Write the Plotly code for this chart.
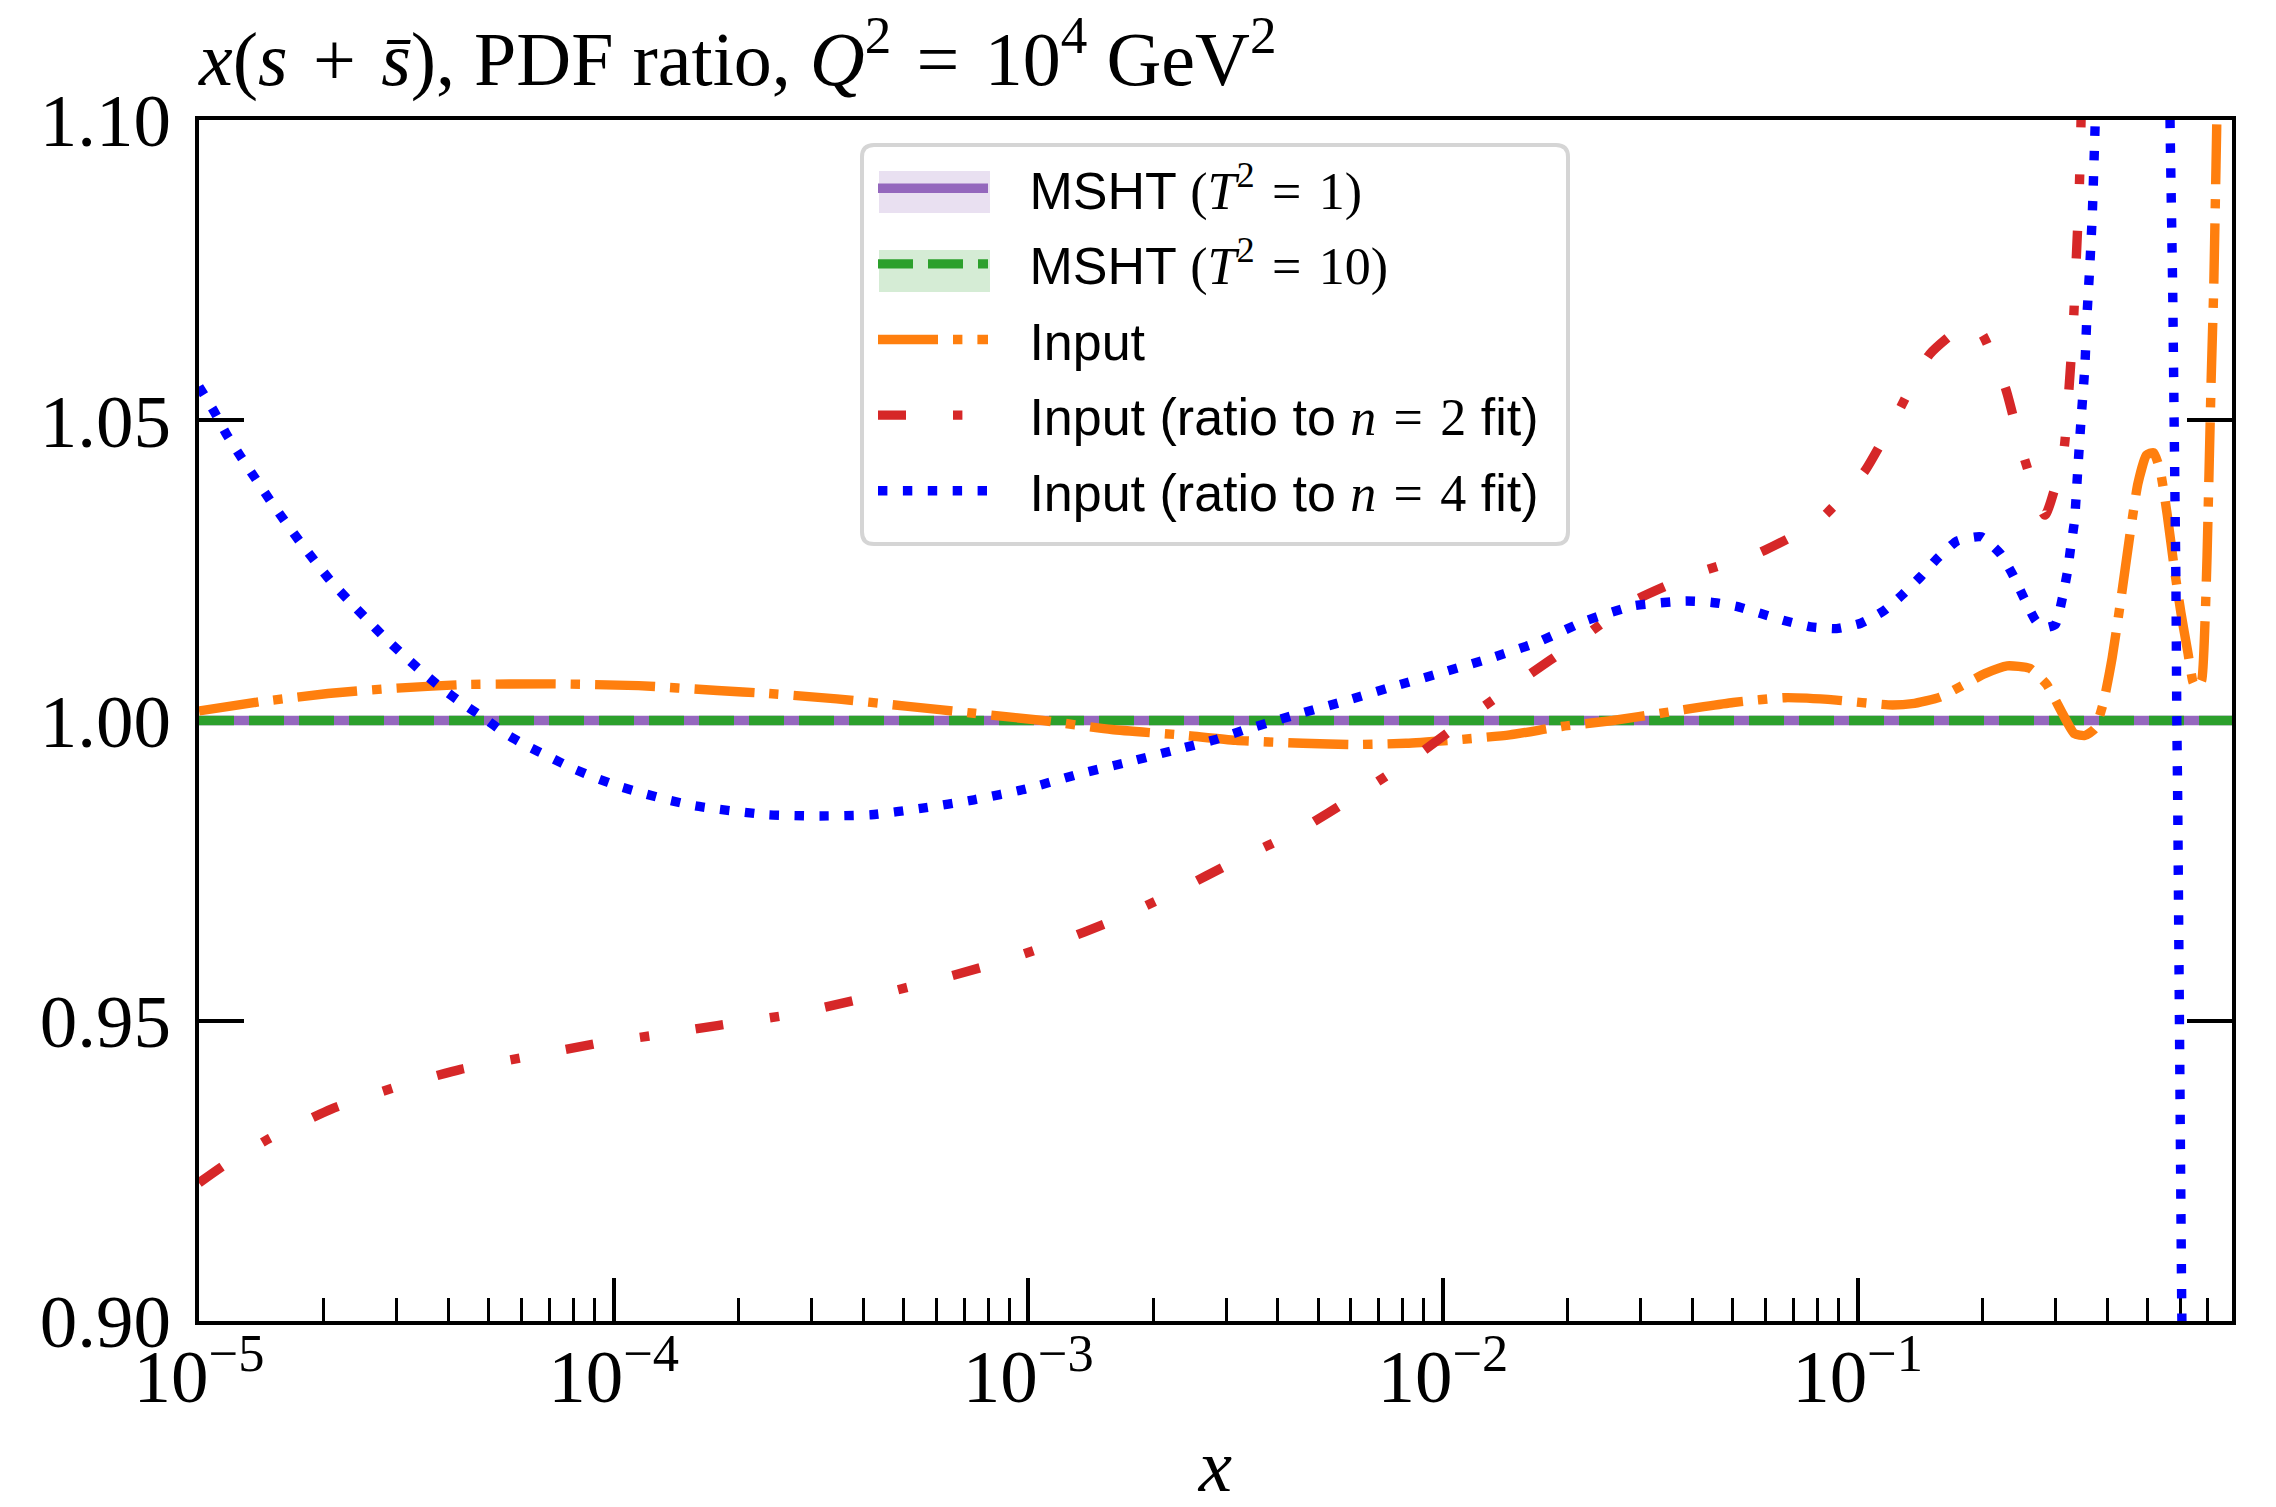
import numpy as np
import plotly.graph_objects as go

# ---------------- data (x given as log10 x) ----------------
msht_log10x = [-5.0, -0.0969]
msht_t1_ratio = [1.0, 1.0]
msht_t10_ratio = [1.0, 1.0]

input_log10x = [-5.0, -4.855, -4.689, -4.522, -4.356, -4.148, -3.94, -3.75, -3.627, -3.462,
                -3.296, -3.131, -2.965, -2.799, -2.634, -2.50, -2.338, -2.214, -2.089, -1.964,
                -1.839, -1.714, -1.59, -1.465, -1.371, -1.30, -1.175, -1.051, -0.926, -0.868,
                -0.801, -0.693, -0.639, -0.585, -0.544, -0.506, -0.477, -0.452, -0.428, -0.407,
                -0.386, -0.365, -0.344, -0.324, -0.303, -0.286, -0.270, -0.253, -0.236, -0.220,
                -0.203, -0.191, -0.182, -0.170, -0.162, -0.157, -0.152, -0.147, -0.141, -0.137,
                -0.134, -0.130, -0.125]
input_ratio = [1.0016, 1.0031, 1.0045, 1.0054, 1.0060, 1.0061, 1.0058, 1.0050, 1.0045, 1.0036,
               1.0024, 1.0012, 1.0000, 0.9985, 0.9976, 0.9967, 0.9962, 0.9960, 0.9962, 0.9968,
               0.9976, 0.9990, 1.0000, 1.0013, 1.0023, 1.0030, 1.0038, 1.0034, 1.0026, 1.0028,
               1.0039, 1.0078, 1.0091, 1.0087, 1.0060, 1.0012, 0.9978, 0.9975, 0.9986, 1.0030,
               1.0104, 1.0201, 1.0305, 1.0394, 1.0442, 1.0446, 1.0416, 1.0342, 1.0253, 1.0179,
               1.0112, 1.0064, 1.0054, 1.0067, 1.0164, 1.0275, 1.0423, 1.0572, 1.0720, 1.0868,
               1.0980, 1.1200, 1.1500]

n2_log10x = [-5.0, -4.938, -4.830, -4.681, -4.527, -4.369, -4.210, -4.048, -3.890, -3.75,
             -3.569, -3.412, -3.255, -3.097, -2.940, -2.791, -2.642, -2.501, -2.347, -2.205,
             -2.072, -1.939, -1.810, -1.673, -1.540, -1.390, -1.238, -1.096, -0.984, -0.905,
             -0.826, -0.727, -0.698, -0.643, -0.602, -0.548, -0.504, -0.490, -0.479, -0.472,
             -0.465, -0.461, -0.455, -0.430]
n2_ratio = [0.9230, 0.9260, 0.9304, 0.9353, 0.9389, 0.9419, 0.9440, 0.9461, 0.9477, 0.9492,
            0.9511, 0.9535, 0.9562, 0.9592, 0.9628, 0.9668, 0.9716, 0.9766, 0.9817, 0.9877,
            0.9937, 1.0005, 1.0068, 1.0133, 1.0199, 1.0245, 1.0279, 1.0331, 1.0414, 1.0510,
            1.0610, 1.0664, 1.0642, 1.0553, 1.0446, 1.0342, 1.0442, 1.0553, 1.0668, 1.0777,
            1.0890, 1.0998, 1.1200, 1.1700]

n4_log10x = [-5.0, -4.963, -4.934, -4.898, -4.864, -4.829, -4.793, -4.757, -4.720, -4.681,
             -4.639, -4.596, -4.552, -4.507, -4.462, -4.413, -4.364, -4.314, -4.263, -4.210,
             -4.154, -4.098, -4.042, -3.985, -3.925, -3.865, -3.805, -3.745, -3.627, -3.503,
             -3.379, -3.255, -3.131, -3.006, -2.882, -2.758, -2.634, -2.55, -2.480, -2.363,
             -2.243, -2.122, -2.006, -1.889, -1.773, -1.656, -1.540, -1.415, -1.354, -1.292,
             -1.233, -1.175, -1.113, -1.051, -0.992, -0.938, -0.891, -0.847, -0.806, -0.760,
             -0.702, -0.656, -0.625, -0.598, -0.569, -0.545, -0.523, -0.506, -0.494, -0.486,
             -0.477, -0.469, -0.461, -0.452, -0.447, -0.440, -0.434, -0.428, -0.420, -0.400,
             -0.330, -0.270, -0.250, -0.246, -0.240, -0.236, -0.232, -0.230, -0.228, -0.218,
             -0.214]
n4_ratio = [1.0556, 1.0514, 1.0477, 1.0438, 1.0403, 1.0367, 1.0332, 1.0298, 1.0265, 1.0231,
            1.0200, 1.0169, 1.0138, 1.0109, 1.0081, 1.0053, 1.0028, 1.0005, 0.9979, 0.9958,
            0.9939, 0.9920, 0.9904, 0.9890, 0.9878, 0.9867, 0.9858, 0.9852, 0.9843, 0.9841,
            0.9843, 0.9854, 0.9868, 0.9886, 0.9910, 0.9931, 0.9953, 0.9968, 0.9984, 1.0008,
            1.0031, 1.0056, 1.0079, 1.0103, 1.0130, 1.0166, 1.0191, 1.0199, 1.0197, 1.0190,
            1.0178, 1.0166, 1.0156, 1.0153, 1.0162, 1.0182, 1.0210, 1.0240, 1.0271, 1.0299,
            1.0306, 1.0278, 1.0242, 1.0203, 1.0165, 1.0155, 1.0160, 1.0204, 1.0247, 1.0288,
            1.0331, 1.0416, 1.0501, 1.0587, 1.0670, 1.0755, 1.0840, 1.0969, 1.1150, 1.1600,
            1.2500, 1.1600, 1.1200, 1.0980, 1.0720, 1.0468, 1.0216, 1.0000, 0.9874, 0.9016,
            0.8800]

y_tick_values = [0.90, 0.95, 1.00, 1.05, 1.10]
y_tick_labels = ["0.90", "0.95", "1.00", "1.05", "1.10"]

# ---------------- styling ----------------
SERIF = "Liberation Serif"
SANS = "Liberation Sans"
LW = 9.4
PAD = "\u2002\u2009"   # gap between legend symbol and its text
MS = "\u2004"          # math-like spacing around relations


def xs(logx):
    return np.power(10.0, np.array(logx))


def math(s):
    return '<span style="font-family:%s">%s</span>' % (SERIF, s)


fig = go.Figure()

fig.add_trace(go.Scatter(
    x=xs(msht_log10x), y=msht_t1_ratio, mode="lines", legendgroup="g1",
    name=PAD + "MSHT " + math("(<i>T</i><sup>2</sup>" + MS + "=" + MS + "1)"),
    line=dict(color="#9467bd", width=LW)))
fig.add_trace(go.Scatter(
    x=xs(msht_log10x), y=msht_t10_ratio, mode="lines", legendgroup="g2",
    name=PAD + "MSHT " + math("(<i>T</i><sup>2</sup>" + MS + "=" + MS + "10)"),
    line=dict(color="#2ca02c", width=LW, dash="35px,15px")))
fig.add_trace(go.Scatter(
    x=xs(input_log10x), y=input_ratio, mode="lines", legendgroup="g3",
    name=PAD + "Input",
    line=dict(color="#ff7f0e", width=LW, dash="60px,15px,9.4px,15px",
              shape="spline", smoothing=0.5)))
fig.add_trace(go.Scatter(
    x=xs(n2_log10x), y=n2_ratio, mode="lines", legendgroup="g4",
    name=PAD + "Input (ratio to " + math("<i>n</i>" + MS + "=" + MS + "2") + " fit)",
    line=dict(color="#d62728", width=LW, dash="28px,47px,9.4px,47px",
              shape="spline", smoothing=0.5)))
fig.add_trace(go.Scatter(
    x=xs(n4_log10x), y=n4_ratio, mode="lines", legendgroup="g5",
    name=PAD + "Input (ratio to " + math("<i>n</i>" + MS + "=" + MS + "4") + " fit)",
    line=dict(color="#0000ff", width=LW, dash="9.4px,15.5px",
              shape="spline", smoothing=0.5)))

# legend frame (rounded) and the uncertainty-band swatches behind the legend symbols
W, H = 2276, 1507
L, R, T, B = 199, 2232, 120, 1321
pw, ph = R - L, B - T


def px2paper(xp, yp):
    return (xp - L) / pw, (B - yp) / ph


def rounded_rect(x0, y0, x1, y1, r):
    ax0, ay0 = px2paper(x0, y1)
    ax1, ay1 = px2paper(x1, y0)
    rx, ry = r / pw, r / ph
    return (f"M{ax0+rx},{ay0} L{ax1-rx},{ay0} Q{ax1},{ay0} {ax1},{ay0+ry} "
            f"L{ax1},{ay1-ry} Q{ax1},{ay1} {ax1-rx},{ay1} L{ax0+rx},{ay1} "
            f"Q{ax0},{ay1} {ax0},{ay1-ry} L{ax0},{ay0+ry} Q{ax0},{ay0} {ax0+rx},{ay0} Z")


shapes = [dict(type="path", xref="paper", yref="paper", layer="above",
               path=rounded_rect(862, 145, 1568, 544, 12),
               fillcolor="white", line=dict(color="#d5d5d5", width=4))]
for (yc, col) in [(192, "#e9e0f1"), (271, "#d5ecd5")]:
    bx0, by0 = px2paper(879, yc + 21)
    bx1, by1 = px2paper(990, yc - 21)
    shapes.append(dict(type="rect", xref="paper", yref="paper", layer="above",
                       x0=bx0, x1=bx1, y0=by0, y1=by1, fillcolor=col, line=dict(width=0)))

lx, ly = px2paper(873, 148)

fig.update_layout(
    width=W, height=H,
    margin=dict(l=L, r=W - R, t=T, b=H - B, autoexpand=False),
    paper_bgcolor="white", plot_bgcolor="white",
    shapes=shapes,
    title=dict(
        text="<i>x</i>(<i>s</i>" + MS + "+" + MS + "<i>s\u0304</i>), PDF ratio, "
             "<i>Q</i><sup>2</sup>" + MS + "=" + MS + "10<sup>4</sup> GeV<sup>2</sup>",
        x=L / W, xref="container", xanchor="left",
        y=1 - 58 / H, yref="container", yanchor="middle",
        font=dict(family=SERIF, size=76, color="black")),
    legend=dict(x=lx, y=ly, xanchor="left", yanchor="top",
                bgcolor="rgba(0,0,0,0)", borderwidth=0,
                font=dict(family=SANS, size=52, color="black"),
                itemwidth=110, tracegroupgap=5, traceorder="grouped"),
    xaxis=dict(
        type="log", range=[-5, np.log10(0.8)], dtick=1, tick0=0,
        exponentformat="power", showgrid=False, zeroline=False,
        showline=True, linecolor="black", linewidth=4, mirror=True,
        layer="below traces",
        ticks="inside", ticklen=43, tickwidth=3.5, tickcolor="black",
        ticklabelstandoff=-10,
        minor=dict(ticks="inside", ticklen=23, tickwidth=3, tickcolor="black",
                   dtick="D1", showgrid=False),
        tickfont=dict(family=SERIF, size=60, color="black"),
        title=dict(text="<i>x</i>", font=dict(family=SERIF, size=75, color="black"),
                   standoff=50),
    ),
    yaxis=dict(
        range=[0.9 - 1e-9, 1.1 + 1e-9], tickmode="array",
        tickvals=y_tick_values, ticktext=y_tick_labels,
        showgrid=False, zeroline=False,
        showline=True, linecolor="black", linewidth=4, mirror="ticks",
        layer="below traces",
        ticks="inside", ticklen=45, tickwidth=3.5, tickcolor="black",
        ticklabelstandoff=9,
        tickfont=dict(family=SERIF, size=75, color="black"),
    ),
)

fig.write_html("out.html", config={"displayModeBar": False},
               post_script="document.body.style.margin='0';")
